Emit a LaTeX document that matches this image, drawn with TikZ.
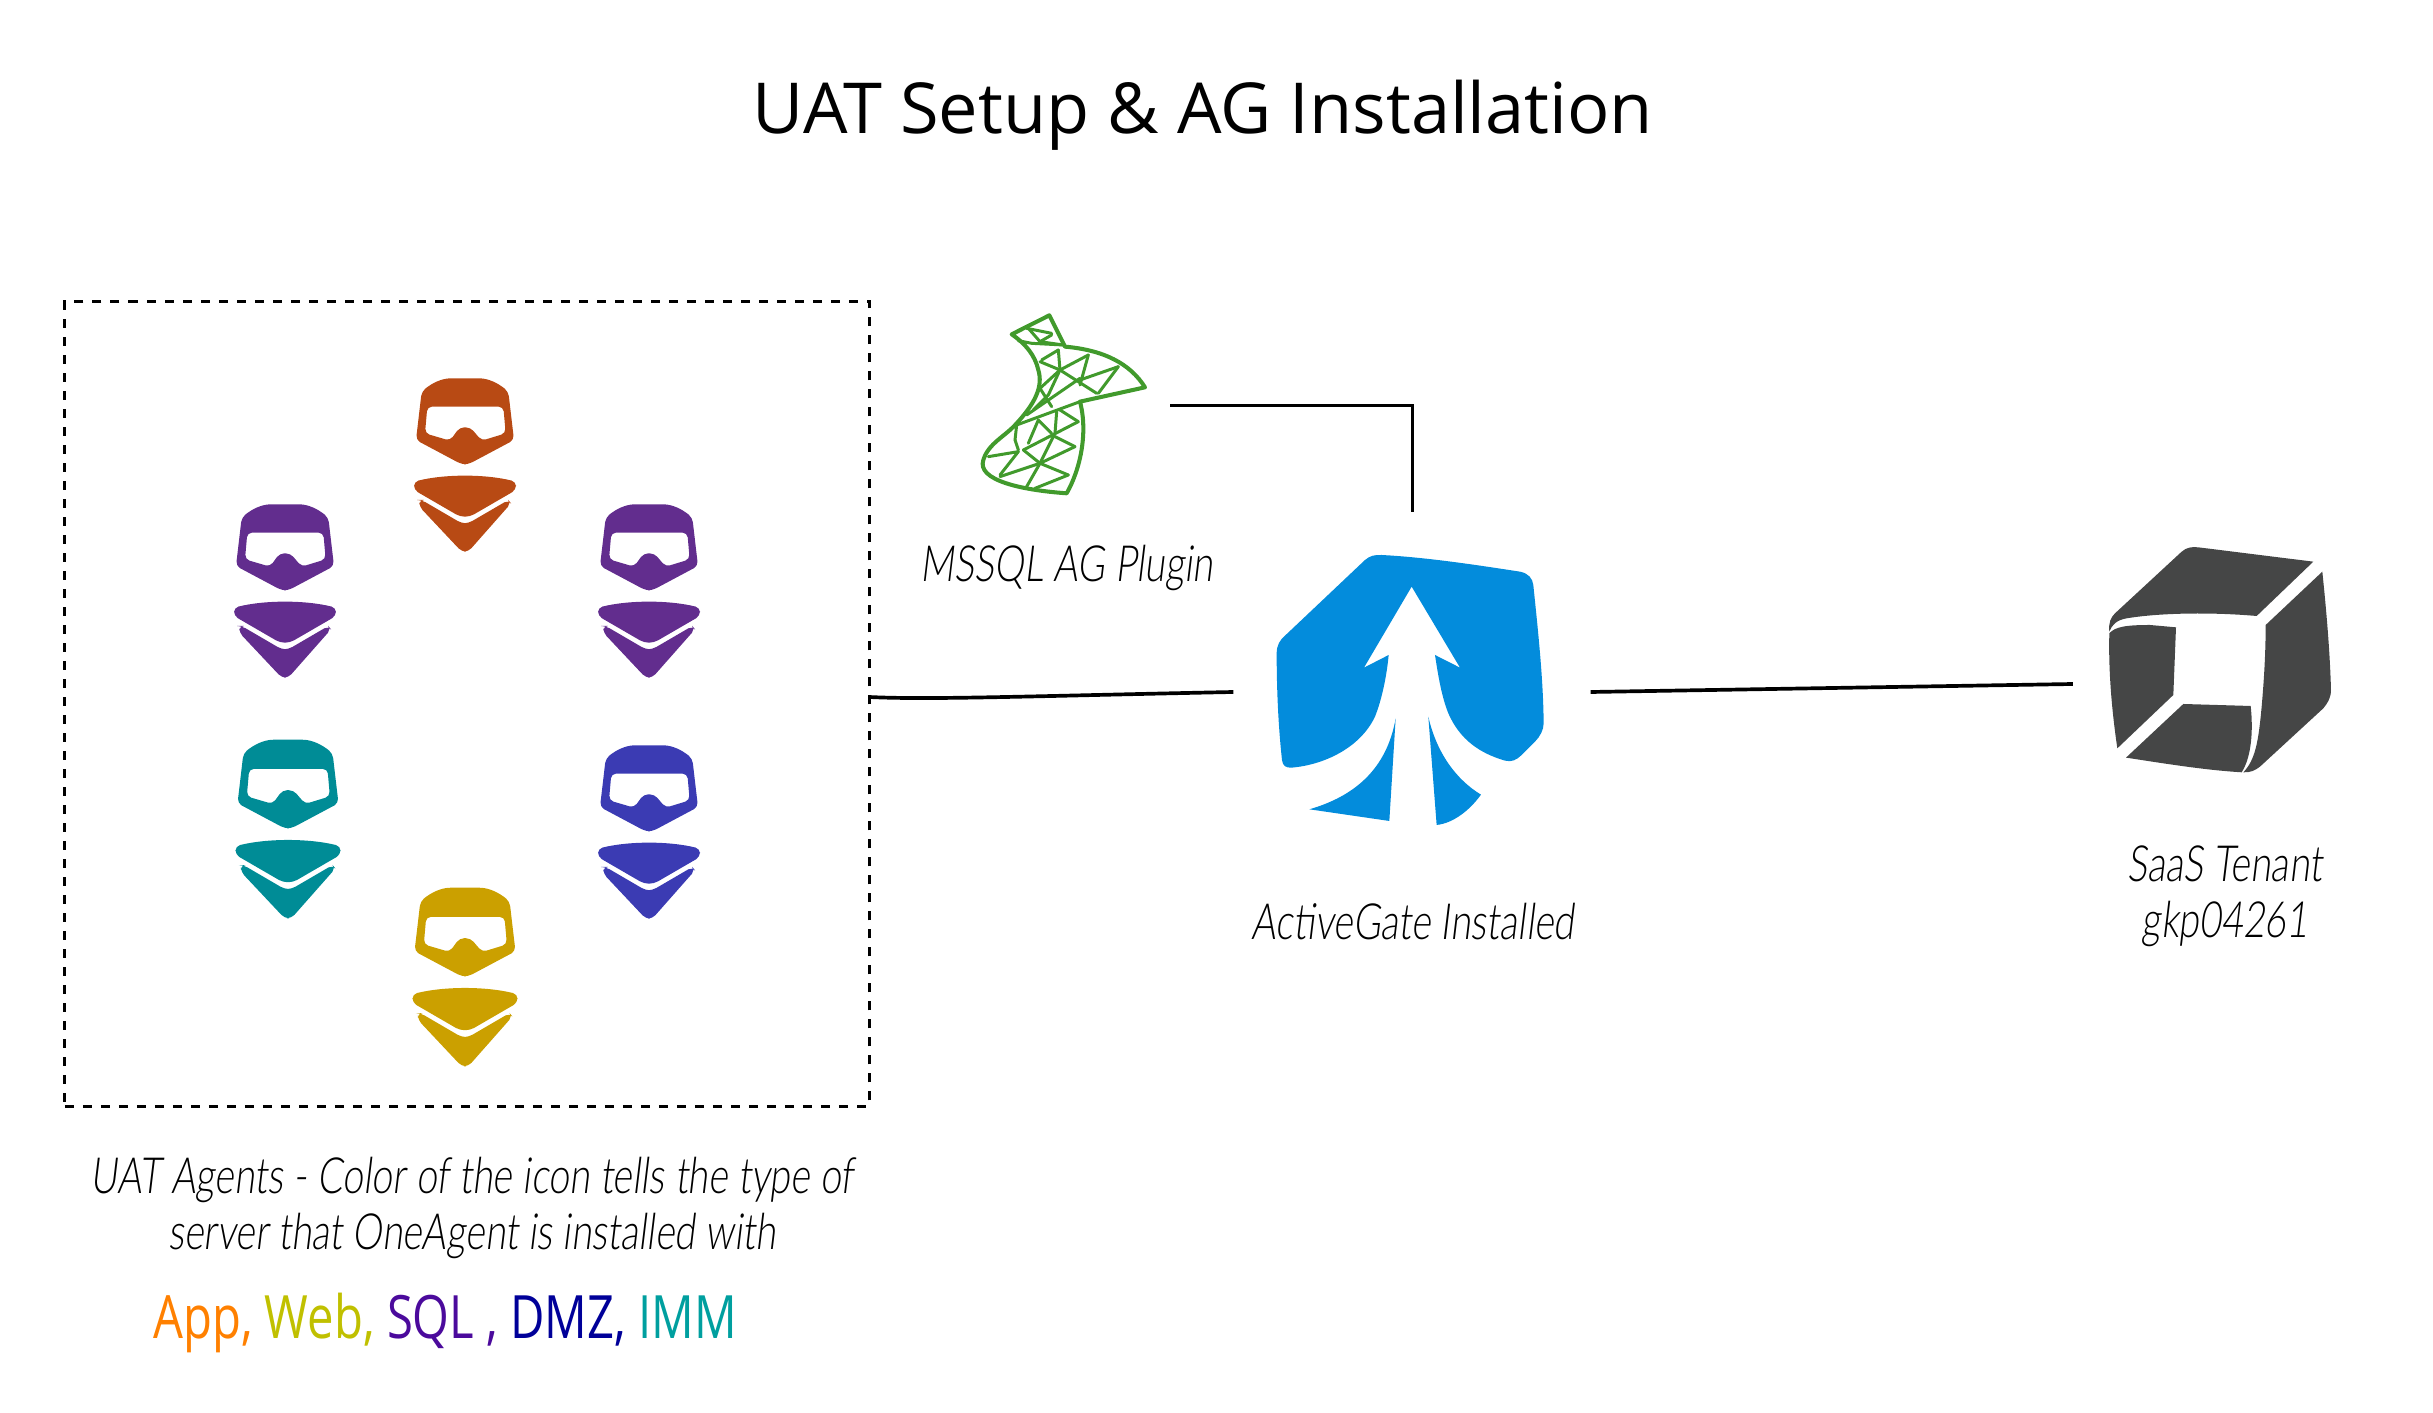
\documentclass[tikz,border=0pt]{standalone}
\usepackage{fontspec}
\setmainfont{Open Sans}
\newfontfamily\handfont[FakeStretch=0.75,FakeSlant=0.12]{Lato Light}
\newfontfamily\typefont[FakeStretch=0.79]{Open Sans}
\usepackage{xcolor}
\usepackage{tikz}
\usetikzlibrary{positioning}
\definecolor{agentorange}{HTML}{B84A14}
\definecolor{agentpurple}{HTML}{622D8E}
\definecolor{agentteal}{HTML}{008C96}
\definecolor{agentblue}{HTML}{3B3BB3}
\definecolor{agentyellow}{HTML}{CBA000}
\definecolor{gateblue}{HTML}{038CDC}
\definecolor{cubegray}{HTML}{454646}
\definecolor{sqlgreen}{HTML}{419A2C}
\tikzset{
  iconbox/.style = {inner sep=0pt, outer sep=0pt},
  link/.style    = {draw=black, line width=1.05pt},
  hand/.style    = {font=\handfont\fontsize{14.2}{16}\selectfont, align=center, inner sep=0pt},
  mesh/.style    = {draw=sqlgreen, line width=0.85pt, line join=round, line cap=round},
  pics/agenticon/.style = {code={
    \fill[#1, scale=0.3333, rounded corners=1.3pt, even odd rule]
      (-130,-220) .. controls (-100,-245) and (-70,-260) .. (-30,-260) -- (30,-260)
        .. controls (70,-260) and (100,-245) .. (130,-220)
        -- (147,-75) -- (10,-2) -- (-10,-2) -- (-147,-75) -- cycle
      (-113,-175) -- (115,-175) -- (122,-95) -- (50,-73) -- (16,-113) -- (-16,-113)
        -- (-45,-73) -- (-120,-95) -- cycle;
    \fill[#1, scale=0.3333, rounded corners=1.3pt]
      (-153,50) .. controls (-60,27) and (60,27) .. (153,50) -- (153,75)
        -- (15,155) -- (-15,155) -- (-153,75) -- cycle;
    \fill[#1, scale=0.3333, rounded corners=1.3pt]
      (-137,105) -- (-130,105) -- (-10,175) -- (10,175) -- (130,105) -- (138,115)
        -- (10,260) -- (-10,260) -- (-137,125) -- cycle;
  }},
}
\begin{document}
\begin{tikzpicture}[x=0.01cm, y=-0.01cm]
\useasboundingbox (0,0) rectangle (2433,1413);

% ---------------- title ------------------------------------------------
\node[font=\fontsize{20}{24}\selectfont, inner sep=0pt] (title) at (1203,115) {UAT Setup \& AG Installation};

% ---------------- agents -----------------------------------------------
\node[iconbox, draw=black, dash pattern=on 2.56pt off 2.56pt, line width=0.85pt,
      minimum width=8.04cm, minimum height=8.04cm] (agents) at (467,704) {};

\foreach \xpos/\ypos/\tint/\size in {465/465/agentorange/1, 285/591/agentpurple/1, 649/591/agentpurple/1,
                                     288/829/agentteal/1.03, 649/832/agentblue/1, 465/977/agentyellow/1.03}
  \pic[scale=\size] at (\xpos,\ypos) {agenticon=\tint};

\node[hand, below=0.5cm of agents, xshift=0.05cm] (agentslabel)
  {UAT Agents - Color of the icon tells the type of\\server that OneAgent is installed with};

\node[font=\typefont\fontsize{17}{20}\selectfont, inner sep=0pt] (servertypes) at (445,1323)
  {\textcolor[HTML]{FF8000}{App,} \textcolor[HTML]{C0C000}{Web,} \textcolor[HTML]{4B0A9C}{SQL ,}
   \textcolor[HTML]{000099}{DMZ,} \textcolor[HTML]{009F9F}{IMM}};

% ---------------- plugin -----------------------------------------------
\node[iconbox, minimum width=2.4cm, minimum height=2.4cm] (plugin) at (1050,406) {};
\begin{scope}[shift={(960,300)}, scale=0.3333]
  \draw[mesh, line width=1.15pt]
    (155,103) -- (268,46) -- (315,140) .. controls (430,150) and (510,190) .. (555,262)
    -- (360,305) .. controls (385,400) and (360,510) .. (320,580)
    .. controls (180,570) and (50,540) .. (70,480) .. controls (85,430) and (135,410) .. (170,370)
    .. controls (225,310) and (250,260) .. (235,210) .. controls (225,165) and (195,130) .. (155,103) -- cycle;
  \foreach \ax/\ay/\bx/\by in {200/85/275/100, 205/85/240/125, 240/125/310/135, 275/105/240/125,
      175/122/215/130, 215/130/310/135, 295/150/300/210, 245/180/295/150, 240/185/300/210,
      300/210/385/165, 385/165/360/255, 300/210/410/280, 360/240/475/200, 475/200/415/280,
      300/210/240/265, 300/210/265/285, 240/265/275/320, 360/235/200/345, 265/285/220/330,
      360/305/170/375, 170/375/165/420, 165/420/175/450, 235/360/205/430, 235/360/275/400,
      290/335/285/400, 300/330/355/365, 355/365/190/450, 190/450/240/490, 240/490/200/560,
      285/400/240/490, 285/410/345/440, 345/440/240/490, 240/490/325/525, 325/525/225/565,
      240/490/120/530, 175/455/85/470, 175/455/120/525}
    \draw[mesh] (\ax,\ay) -- (\bx,\by);
\end{scope}
\node[hand] (pluginlabel) at (1067,568) {MSSQL AG Plugin};

% ---------------- activegate -------------------------------------------
\node[iconbox, minimum width=3.57cm, minimum height=3.6cm] (gate) at (1412,692) {};
\begin{scope}[shift={(1260,540)}, scale=0.3333, gateblue]
  \fill (50,340) .. controls (50,315) and (60,300) .. (75,287) -- (315,60)
    .. controls (330,47) and (345,44) .. (365,45) .. controls (500,52) and (650,75) .. (780,95)
    .. controls (805,100) and (818,115) .. (820,135) .. controls (835,280) and (850,420) .. (851,550)
    .. controls (851,570) and (840,590) .. (825,605) -- (785,645)
    .. controls (770,660) and (755,667) .. (735,662) .. controls (660,640) and (600,600) .. (565,520)
    .. controls (545,470) and (535,410) .. (525,345) -- (600,383) -- (455,140) -- (312,383) -- (386,345)
    .. controls (380,410) and (365,480) .. (345,530) .. controls (300,625) and (190,675) .. (95,683)
    .. controls (78,684) and (68,678) .. (66,660) .. controls (55,560) and (50,450) .. (50,340) -- cycle;
  \fill (148,808) .. controls (280,770) and (380,690) .. (407,535) -- (388,843) -- cycle;
  \fill (505,530) .. controls (530,640) and (590,720) .. (663,764)
    .. controls (630,810) and (580,850) .. (530,855) -- cycle;
\end{scope}
\node[hand] (gatelabel) at (1413,922) {ActiveGate Installed};

% ---------------- tenant -----------------------------------------------
\node[iconbox, minimum width=2.94cm, minimum height=2.4cm] (tenant) at (2220,684) {};
\begin{scope}[shift={(2090,530)}, scale=0.3333, cubegray]
  \fill (58,305) .. controls (55,280) and (62,262) .. (75,250) -- (275,65)
    .. controls (290,52) and (305,50) .. (325,52) -- (670,95) -- (500,258)
    .. controls (350,245) and (200,250) .. (110,265) .. controls (80,270) and (65,285) .. (58,305) -- cycle;
  \fill (58,310) .. controls (75,290) and (110,285) .. (180,285) -- (258,292) -- (250,495) -- (82,655)
    .. controls (65,540) and (55,420) .. (58,310) -- cycle;
  \fill (280,522) -- (482,528) .. controls (490,600) and (485,680) .. (455,727)
    .. controls (340,720) and (220,700) .. (108,683) -- cycle;
  \fill (527,285) -- (697,125) .. controls (710,250) and (720,370) .. (723,480)
    .. controls (723,505) and (712,520) .. (700,535) -- (510,710)
    .. controls (495,722) and (480,728) .. (460,727) .. controls (495,690) and (505,640) .. (515,530)
    .. controls (522,450) and (527,370) .. (527,285) -- cycle;
\end{scope}
\node[hand] (tenantlabel) at (2225,896) {SaaS Tenant\\gkp04261};

% ---------------- connectors -------------------------------------------
\draw[link] ([yshift=0.07cm]agents.east) .. controls +(60,3) and +(-200,4) .. (gate.west);
\draw[link] (gate.east) -- (tenant.west);
\draw[link, line width=0.85pt] (plugin.east) -| (gate.north);

\end{tikzpicture}
\end{document}
